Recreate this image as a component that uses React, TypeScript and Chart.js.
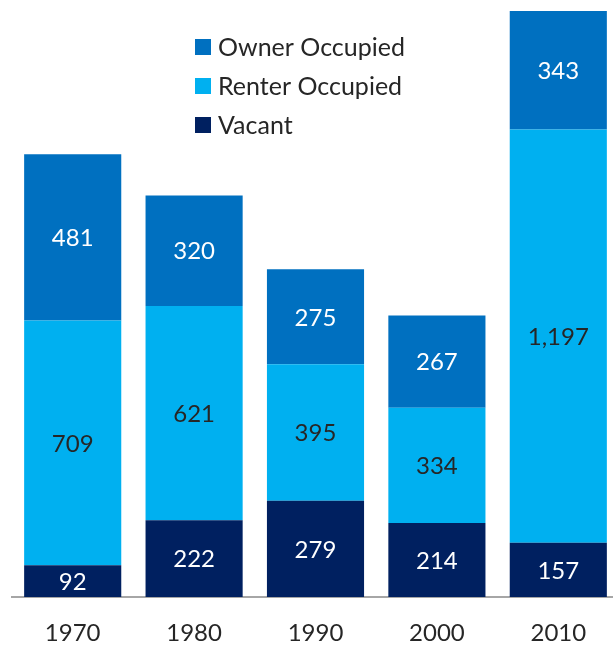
import React, { useEffect, useRef } from "react";
import { Chart, registerables } from "chart.js";

Chart.register(...registerables);

const years = ["1970", "1980", "1990", "2000", "2010"];
const vacant = [92, 222, 279, 214, 157];
const renterOccupied = [709, 621, 395, 334, 1197];
const ownerOccupied = [481, 320, 275, 267, 343];

const FONT = "Lato";
const TEXT_DARK = "#262626";
const W = 621;
const VIEW_H = 645;
const H = 669;

const valueLabels = {
  id: "valueLabels",
  afterDatasetsDraw(chart: any) {
    const ctx = chart.ctx;
    ctx.save();
    ctx.font = `24px ${FONT}`;
    ctx.textAlign = "center";
    ctx.textBaseline = "middle";
    chart.data.datasets.forEach((ds: any, di: number) => {
      const meta = chart.getDatasetMeta(di);
      meta.data.forEach((bar: any, i: number) => {
        const v = ds.data[i];
        const cy = (bar.y + bar.base) / 2;
        ctx.fillStyle = ds.labelColor;
        ctx.fillText(v.toLocaleString("en-US"), bar.x, cy + 1);
      });
    });
    ctx.restore();
  },
};

const customLegend = {
  id: "customLegend",
  afterDraw(chart: any) {
    const ctx = chart.ctx;
    ctx.save();
    ctx.font = `25px ${FONT}`;
    ctx.textBaseline = "middle";
    ctx.textAlign = "left";
    const order = [2, 1, 0];
    order.forEach((di, row) => {
      const ds = chart.data.datasets[di];
      const cy = 47 + row * 39;
      ctx.fillStyle = ds.backgroundColor;
      ctx.fillRect(195, cy - 8, 16, 16);
      ctx.fillStyle = TEXT_DARK;
      ctx.fillText(ds.label, 218, cy + 1);
    });
    ctx.restore();
  },
};

export default function App() {
  const ref = useRef<HTMLCanvasElement>(null);
  useEffect(() => {
    if (!ref.current) return;
    const chart = new Chart(ref.current, {
      type: "bar",
      data: {
        labels: years,
        datasets: [
          { label: "Vacant", data: vacant, backgroundColor: "#002060", labelColor: "#FFFFFF" } as any,
          { label: "Renter Occupied", data: renterOccupied, backgroundColor: "#00B0F0", labelColor: TEXT_DARK } as any,
          { label: "Owner Occupied", data: ownerOccupied, backgroundColor: "#0070C0", labelColor: "#FFFFFF" } as any,
        ],
      },
      options: {
        animation: false,
        responsive: false,
        maintainAspectRatio: false,
        devicePixelRatio: 1,
        layout: { padding: { left: 12, right: 2, top: 0, bottom: 0 } },
        datasets: { bar: { categoryPercentage: 1, barPercentage: 0.8 } },
        plugins: { legend: { display: false }, tooltip: { enabled: false } },
        scales: {
          x: {
            stacked: true,
            grid: { display: false, drawTicks: false },
            border: { display: true, color: "#A6A6A6", width: 2 },
            ticks: { color: TEXT_DARK, font: { family: FONT, size: 24, lineHeight: 1.2 }, padding: 21.6 },
          },
          y: {
            stacked: true,
            display: false,
            min: 0,
            max: 1729,
          },
        },
      },
      plugins: [valueLabels, customLegend],
    });
    return () => chart.destroy();
  }, []);
  return (
    <div style={{ position: "fixed", top: 0, left: 0, width: 613, height: VIEW_H, overflow: "hidden" }}>
      <canvas ref={ref} width={W} height={H} style={{ display: "block", width: W, height: H }} />
    </div>
  );
}
